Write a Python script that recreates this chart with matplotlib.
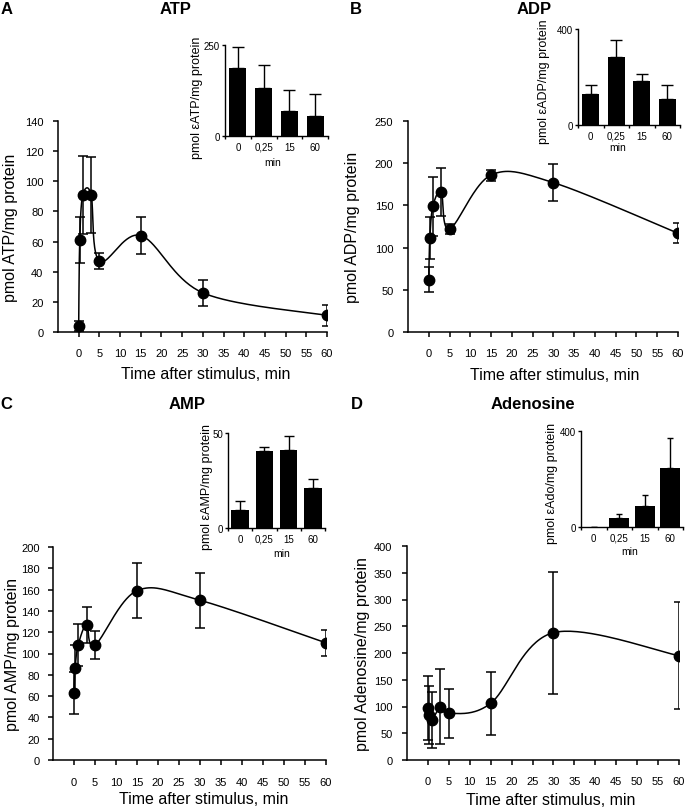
import numpy as np
import matplotlib
matplotlib.use('Agg')
import matplotlib.pyplot as plt

plt.rcParams['font.family'] = ['Liberation Sans', 'DejaVu Sans']

# time points (min) and main series (mean, SD)
time_min = [0, 0.25, 1, 3, 5, 15, 30, 60]
atp_mean = [4, 61, 91, 91, 47, 64, 26, 11]
atp_sd = [3.5, 15, 26, 25, 5.5, 12, 8.5, 7]
adp_mean = [62, 111, 149, 166, 122, 186, 177, 117]
adp_sd = [15, 25, 35, 28, 6, 6.5, 22, 12]
amp_mean = [63, 86, 108, 127, 108, 159, 150, 110]
amp_sd = [20, 22, 20, 17, 13, 26, 26, 12.5]
ado_mean = [97, 84, 75, 100, 87, 106, 238, 195]
ado_sd = [60, 54, 52, 71, 46, 59, 114, 100]

# insets (extracellular)
inset_cats = ['0', '0,25', '15', '60']
eatp_mean = [187, 133, 69, 56]
eatp_sd = [57, 63, 57, 59]
eadp_mean = [131, 283, 183, 110]
eadp_sd = [35, 70, 28, 56]
eamp_mean = [9.4, 40.5, 41, 21.3]
eamp_sd = [4.8, 2, 7.4, 4.5]
eado_mean = [1, 37, 88, 246]
eado_sd = [0, 18, 45, 125]

W, H = 685, 812
fig = plt.figure(figsize=(W / 100, H / 100), dpi=100)


def box(left, top, right, bottom):
    return [left / W, 1 - bottom / H, (right - left) / W, (bottom - top) / H]


def smooth_line(ax, x, y, n=40):
    # excel-like smoothed line, bezier through points in display space
    pts = ax.transData.transform(np.column_stack([x, y]))
    P = np.vstack([pts[0], pts, pts[-1]])
    out = [pts[0]]
    t = np.linspace(0, 1, n)[1:, None]
    for i in range(1, len(P) - 2):
        p0, p1, p2, p3 = P[i - 1], P[i], P[i + 1], P[i + 2]
        c1 = p1 + (p2 - p0) / 6
        c2 = p2 - (p3 - p1) / 6
        seg = (1 - t) ** 3 * p1 + 3 * (1 - t) ** 2 * t * c1 + 3 * (1 - t) * t ** 2 * c2 + t ** 3 * p2
        out.extend(seg)
    out = ax.transData.inverted().transform(np.array(out))
    ax.plot(out[:, 0], out[:, 1], color='black', lw=1.1, zorder=2)


def main_panel(pos, mean, sd, ymax, ystep, ylabel, ylab_x, xlab_xy, xpad=8, ypad=7):
    ax = fig.add_axes(box(*pos))
    ax.set_xlim(-5, 60)
    ax.set_ylim(0, ymax)
    ax.set_xticks(range(0, 61, 5))
    ax.set_yticks(np.arange(0, ymax + 1, ystep))
    for s in ['top', 'right']:
        ax.spines[s].set_visible(False)
    for s in ['left', 'bottom']:
        ax.spines[s].set_linewidth(1.1)
    ax.tick_params(axis='x', labelsize=8, length=3.5, width=1.1, pad=xpad)
    ax.tick_params(axis='y', labelsize=8, length=3.5, width=1.1, pad=ypad)
    smooth_line(ax, time_min, mean)
    ax.errorbar(time_min, mean, yerr=sd, fmt='o', color='black', ms=7.5,
                capsize=3.3, elinewidth=1.1, capthick=1.1, zorder=3)
    ax.set_ylabel(ylabel, fontsize=11.5)
    ax.yaxis.set_label_coords(ylab_x, 0.5)
    ax.yaxis.label.set_va('center')
    ax.set_xlabel('Time after stimulus, min', fontsize=11.5)
    ax.xaxis.set_label_coords(*xlab_xy)
    ax.xaxis.label.set_va('center')
    return ax


def inset_panel(pos, mean, sd, ymax, ylabel, width, cap, ylab_xy, xlab_xy):
    ax = fig.add_axes(box(*pos))
    x = np.arange(len(inset_cats))
    ax.bar(x, mean, width=width, color='black',
           yerr=[np.zeros(len(sd)), sd], capsize=cap,
           error_kw=dict(elinewidth=1.0, capthick=1.0, ecolor='black'))
    ax.set_xlim(-0.5, 3.5)
    ax.set_ylim(0, ymax)
    ax.set_yticks([0, ymax])
    ax.set_xticks([-0.5, 0.5, 1.5, 2.5, 3.5])
    ax.set_xticklabels([])
    ax.set_xticks(x, minor=True)
    ax.set_xticklabels(inset_cats, minor=True)
    ax.tick_params(axis='x', which='minor', length=0, labelsize=7, pad=4)
    ax.tick_params(axis='x', which='major', length=2.5, width=1.0)
    ax.tick_params(axis='y', labelsize=7, length=2.5, width=1.0, pad=1)
    for s in ['top', 'right']:
        ax.spines[s].set_visible(False)
    for s in ['left', 'bottom']:
        ax.spines[s].set_linewidth(1.0)
    ax.set_ylabel(ylabel, fontsize=9)
    ax.yaxis.set_label_coords(*ylab_xy)
    ax.yaxis.label.set_va('center')
    ax.set_xlabel('min', fontsize=7.5)
    ax.xaxis.set_label_coords(*xlab_xy)
    ax.xaxis.label.set_va('center')
    return ax


# A - ATP
main_panel((58, 122, 327, 333), atp_mean, atp_sd, 140, 20,
           'pmol ATP/mg protein', -0.178, (0.55, -0.195))
inset_panel((225, 46, 328, 137), eatp_mean, eatp_sd, 250,
            'pmol \u03b5ATP/mg protein', 0.66, 4.0, (-0.27, 0.43), (0.46, -0.29))

# B - ADP
main_panel((408, 122, 678, 333), adp_mean, adp_sd, 250, 50,
           'pmol ADP/mg protein', -0.207, (0.544, -0.2))
inset_panel((578, 30, 680, 126), eadp_mean, eadp_sd, 400,
            'pmol \u03b5ADP/mg protein', 0.66, 4.0, (-0.33, 0.46), (0.39, -0.23))

# C - AMP
main_panel((53, 548, 326, 761), amp_mean, amp_sd, 200, 20,
           'pmol AMP/mg protein', -0.147, (0.553, -0.18), xpad=9, ypad=6)
inset_panel((228, 434, 325, 529), eamp_mean, eamp_sd, 50,
            'pmol \u03b5AMP/mg protein', 0.72, 3.5, (-0.22, 0.44), (0.55, -0.26))

# D - Adenosine
main_panel((407, 547, 679, 761), ado_mean, ado_sd, 400, 50,
           'pmol Adenosine/mg protein', -0.165, (0.53, -0.185))
inset_panel((581, 432, 683, 528), eado_mean, eado_sd, 400,
            'pmol \u03b5Ado/mg protein', 0.8, 2.5, (-0.28, 0.46), (0.48, -0.25))

# panel letters and titles
for lab, x, y in [('A', 7, 9), ('B', 356, 9), ('C', 6, 405), ('D', 357, 405)]:
    fig.text(x / W, 1 - y / H, lab, fontsize=12, fontweight='bold', ha='center', va='center')
for lab, x, y in [('ATP', 176, 9), ('ADP', 534, 9), ('AMP', 187, 405), ('Adenosine', 533, 405)]:
    fig.text(x / W, 1 - y / H, lab, fontsize=12, fontweight='bold', ha='center', va='center')

fig.savefig('out.png', dpi=100)
